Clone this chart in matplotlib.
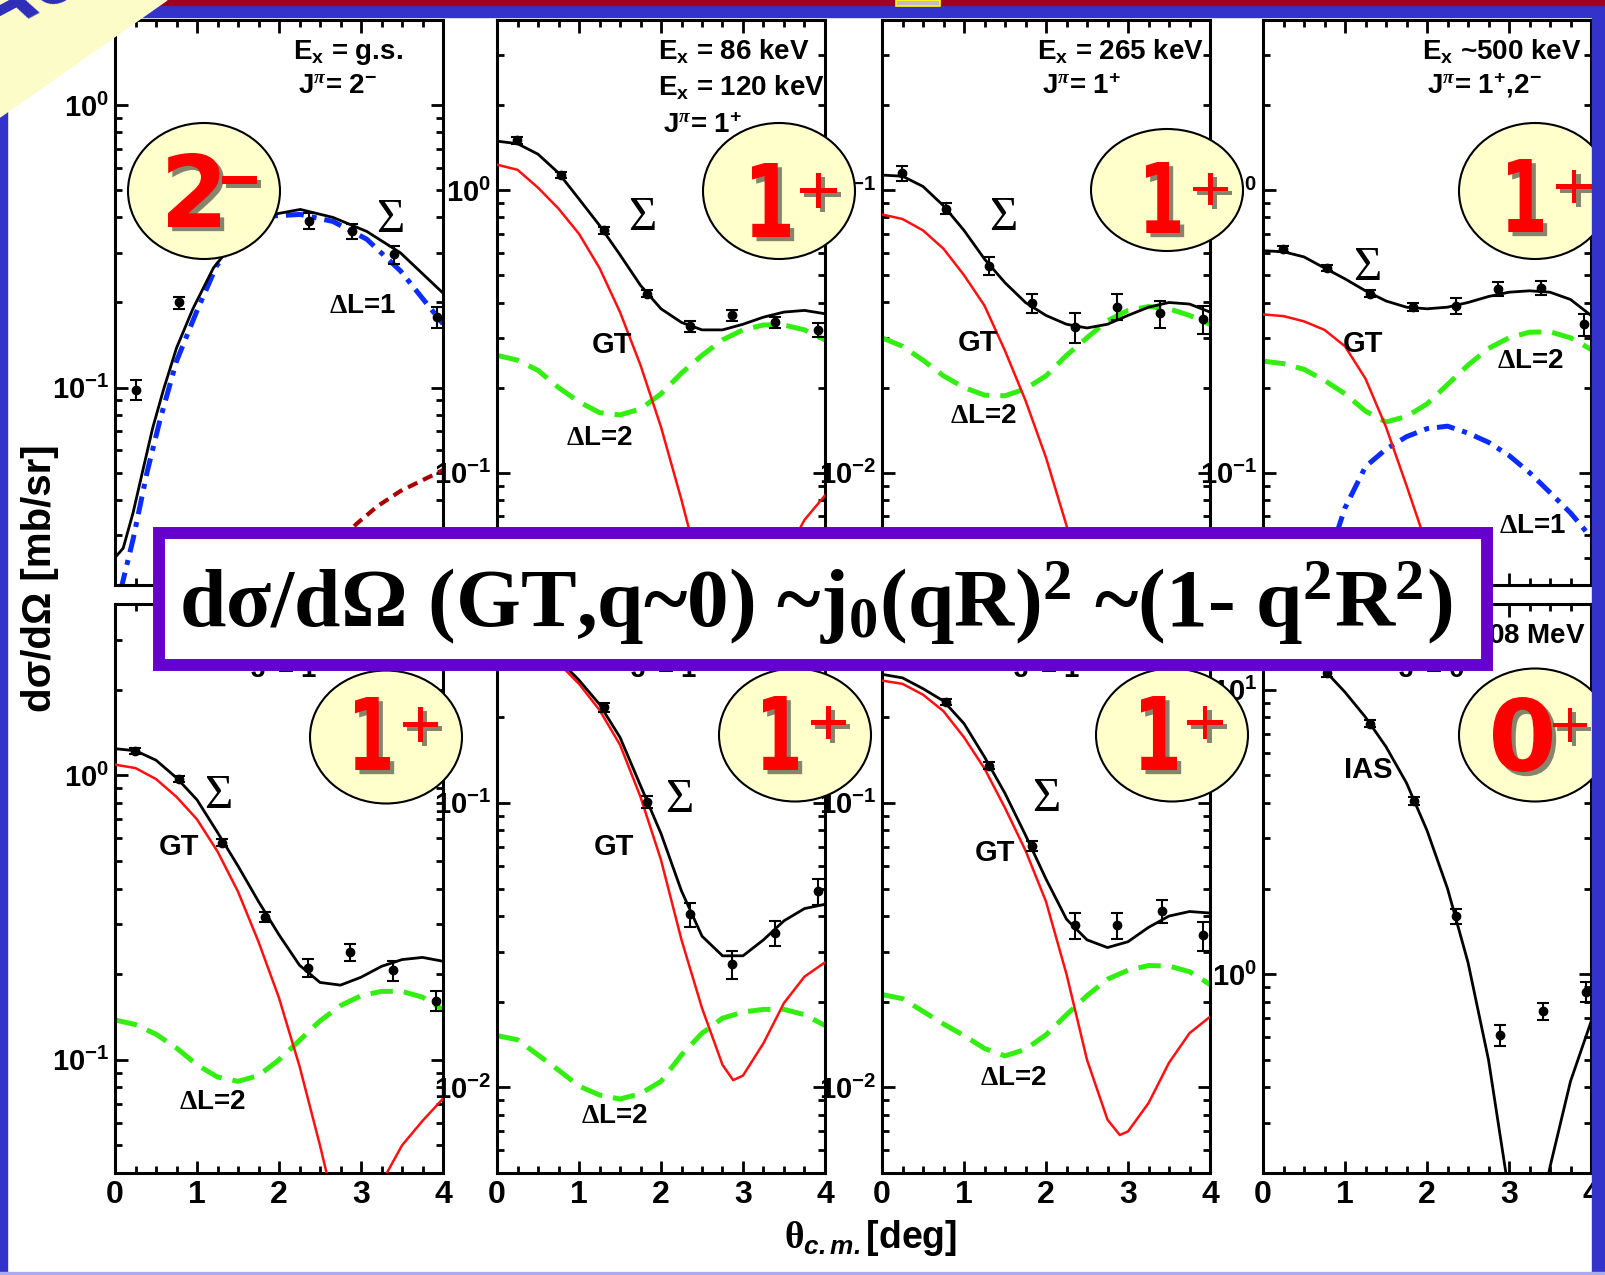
import numpy as np
import matplotlib.pyplot as plt
import matplotlib.patheffects as pe
from matplotlib.patches import Ellipse, Rectangle, Polygon, PathPatch
from matplotlib.ticker import MultipleLocator, FuncFormatter, NullFormatter
from matplotlib.textpath import TextPath
from matplotlib.font_manager import FontProperties
from matplotlib.transforms import Affine2D

plt.rcParams['font.family'] = ['Liberation Sans', 'DejaVu Sans']
plt.rcParams['font.weight'] = 'bold'
plt.rcParams['mathtext.fontset'] = 'custom'
plt.rcParams['mathtext.default'] = 'regular'
plt.rcParams['mathtext.rm'] = 'Liberation Serif'
plt.rcParams['mathtext.it'] = 'Liberation Serif:italic'
plt.rcParams['mathtext.sf'] = 'Liberation Sans:bold:italic'
plt.rcParams['mathtext.bf'] = 'Liberation Sans:bold'

# ---- data (theta_cm in deg, dsigma/dOmega in mb/sr) ----
theta = [0.0, 0.25, 0.5, 0.75, 1.0, 1.25, 1.5, 1.75, 2.0,
         2.25, 2.5, 2.75, 3.0, 3.25, 3.5, 3.75, 4.0]
pts_theta = [0.24, 0.78, 1.31, 1.83, 2.35, 2.87, 3.39, 3.92]

# panel 1: g.s. 2-
p1_sum_x = [0.0, 0.1, 0.22, 0.34, 0.46, 0.59, 0.75, 0.95, 1.2, 1.5, 1.75, 1.93, 2.26, 2.66, 3.07, 3.48, 4.0]
p1_sum = [0.025, 0.027, 0.036, 0.051, 0.072, 0.098, 0.138, 0.19, 0.265, 0.34, 0.39, 0.41, 0.427, 0.40, 0.357, 0.30, 0.216]
p1_dl1_x = [0.0, 0.085, 0.22, 0.39, 0.55, 0.75, 1.0, 1.24, 1.5, 1.75, 1.93, 2.26, 2.66, 3.07, 3.48, 4.0]
p1_dl1 = [0.014, 0.02, 0.029, 0.05, 0.077, 0.124, 0.187, 0.27, 0.34, 0.385, 0.405, 0.41, 0.387, 0.335, 0.259, 0.168]
p1_dl3_x = [2.5, 2.75, 2.95, 3.2, 3.48, 3.75, 4.0]
p1_dl3 = [0.024, 0.029, 0.033, 0.038, 0.043, 0.047, 0.051]
p1_pts_x = [0.26, 0.78, 2.36, 2.89, 3.4, 3.93]
p1_pts = [0.098, 0.20, 0.39, 0.357, 0.296, 0.178]
p1_err = [0.008, 0.01, 0.025, 0.022, 0.022, 0.015]

# panel 2: 86 + 120 keV 1+
p2_sum = [1.49, 1.46, 1.34, 1.15, 0.93, 0.75, 0.59, 0.46, 0.38, 0.34, 0.32, 0.32, 0.335, 0.355, 0.37, 0.375, 0.365]
p2_gt = [1.23, 1.18, 1.02, 0.86, 0.70, 0.53, 0.37, 0.24, 0.145, 0.08, 0.042, 0.02, 0.012, 0.025, 0.05, 0.068, 0.083]
p2_dl2 = [0.26, 0.25, 0.23, 0.2, 0.178, 0.163, 0.16, 0.168, 0.19, 0.225, 0.26, 0.295, 0.32, 0.333, 0.333, 0.32, 0.295]
p2_pts = [1.5, 1.13, 0.72, 0.43, 0.33, 0.36, 0.34, 0.32]
p2_err = [0.04, 0.03, 0.02, 0.012, 0.015, 0.015, 0.015, 0.018]

# panel 3: 265 keV 1+
p3_sum = [0.113, 0.112, 0.103, 0.088, 0.072, 0.057, 0.047, 0.040, 0.036, 0.0335, 0.0325, 0.0335, 0.036, 0.0385, 0.040, 0.0395, 0.037]
p3_gt_x = [0.0, 0.25, 0.5, 0.75, 1.0, 1.25, 1.5, 1.75, 2.0, 2.25, 2.5]
p3_gt = [0.082, 0.079, 0.072, 0.062, 0.050, 0.039, 0.027, 0.018, 0.0113, 0.0065, 0.0034]
p3_dl2 = [0.030, 0.028, 0.025, 0.022, 0.020, 0.0188, 0.0187, 0.0198, 0.022, 0.026, 0.030, 0.0345, 0.0375, 0.0387, 0.038, 0.036, 0.0335]
p3_pts = [0.115, 0.086, 0.054, 0.0397, 0.0327, 0.0387, 0.0366, 0.035]
p3_err = [0.007, 0.004, 0.004, 0.003, 0.004, 0.004, 0.004, 0.004]

# panel 4: ~500 keV 1+,2-
p4_sum = [0.61, 0.605, 0.58, 0.53, 0.485, 0.44, 0.405, 0.385, 0.38, 0.385, 0.40, 0.42, 0.435, 0.44, 0.435, 0.41, 0.36]
p4_gt_x = [0.0, 0.25, 0.5, 0.75, 1.0, 1.25, 1.5, 1.75, 2.0, 2.25]
p4_gt = [0.363, 0.358, 0.343, 0.32, 0.28, 0.215, 0.145, 0.09, 0.055, 0.03]
p4_dl2 = [0.248, 0.243, 0.232, 0.212, 0.19, 0.165, 0.151, 0.158, 0.175, 0.205, 0.24, 0.275, 0.30, 0.314, 0.315, 0.30, 0.273]
p4_dl1_x = [0.75, 1.0, 1.25, 1.5, 1.75, 2.0, 2.25, 2.5, 2.75, 3.0, 3.25, 3.5, 3.75, 4.0]
p4_dl1 = [0.045, 0.075, 0.105, 0.121, 0.134, 0.143, 0.146, 0.138, 0.128, 0.115, 0.1, 0.085, 0.072, 0.059]
p4_pts = [0.62, 0.53, 0.43, 0.385, 0.39, 0.448, 0.45, 0.335]
p4_err = [0.015, 0.012, 0.012, 0.012, 0.025, 0.025, 0.025, 0.03]

# panel 5
p5_sum = [1.24, 1.22, 1.13, 0.98, 0.82, 0.63, 0.48, 0.36, 0.275, 0.215, 0.187, 0.183, 0.195, 0.213, 0.225, 0.229, 0.222]
p5_gt = [1.09, 1.06, 0.97, 0.84, 0.70, 0.54, 0.39, 0.26, 0.165, 0.095, 0.05, 0.025, 0.015, 0.037, 0.05, 0.061, 0.073]
p5_dl2 = [0.138, 0.133, 0.123, 0.11, 0.096, 0.087, 0.084, 0.088, 0.1, 0.117, 0.137, 0.155, 0.168, 0.174, 0.174, 0.166, 0.150]
p5_pts = [1.22, 0.97, 0.58, 0.318, 0.211, 0.239, 0.206, 0.161]
p5_err = [0.03, 0.025, 0.015, 0.012, 0.015, 0.017, 0.017, 0.013]

# panel 6
p6_sum = [0.40, 0.39, 0.36, 0.32, 0.27, 0.222, 0.17, 0.115, 0.078, 0.049, 0.034, 0.029, 0.029, 0.033, 0.0385, 0.0425, 0.044]
p6_gt_x = [0.0, 0.25, 0.5, 0.75, 1.0, 1.25, 1.5, 1.75, 2.0, 2.25, 2.5, 2.75, 2.88, 3.0, 3.25, 3.5, 3.75, 4.0]
p6_gt = [0.39, 0.38, 0.35, 0.31, 0.262, 0.212, 0.16, 0.105, 0.063, 0.033, 0.019, 0.012, 0.0106, 0.011, 0.0143, 0.0198, 0.0245, 0.0275]
p6_dl2 = [0.0152, 0.0147, 0.013, 0.0115, 0.0101, 0.0094, 0.0091, 0.0095, 0.0105, 0.013, 0.0155, 0.0175, 0.0184, 0.0188, 0.0188, 0.018, 0.0165]
p6_pts_x = [1.31, 1.83, 2.35, 2.87, 3.39, 3.92]
p6_pts = [0.217, 0.101, 0.0406, 0.0271, 0.0348, 0.0489]
p6_err = [0.008, 0.005, 0.004, 0.003, 0.0035, 0.005]

# panel 7
p7_sum = [0.283, 0.275, 0.252, 0.228, 0.19, 0.145, 0.108, 0.077, 0.054, 0.039, 0.033, 0.031, 0.0325, 0.0365, 0.040, 0.0415, 0.041]
p7_gt_x = [0.0, 0.25, 0.5, 0.75, 1.0, 1.25, 1.5, 1.75, 2.0, 2.25, 2.5, 2.75, 2.9, 3.0, 3.25, 3.5, 3.75, 4.0]
p7_gt = [0.269, 0.262, 0.24, 0.21, 0.17, 0.132, 0.096, 0.068, 0.045, 0.025, 0.0125, 0.0077, 0.0068, 0.0070, 0.0088, 0.0122, 0.0155, 0.0177]
p7_dl2 = [0.0212, 0.0205, 0.0185, 0.0167, 0.0152, 0.0137, 0.0129, 0.0136, 0.0153, 0.018, 0.021, 0.024, 0.0258, 0.0268, 0.0267, 0.0255, 0.023]
p7_pts_x = [0.78, 1.31, 1.83, 2.35, 2.87, 3.41, 3.92]
p7_pts = [0.226, 0.135, 0.0706, 0.0371, 0.0371, 0.0417, 0.0342]
p7_err = [0.006, 0.004, 0.003, 0.004, 0.004, 0.004, 0.004]

# panel 8: IAS 0+
p8_x = [0.0, 0.25, 0.5, 0.75, 1.0, 1.25, 1.5, 1.75, 2.0, 2.25, 2.5, 2.75, 3.0, 3.1, 3.2, 3.3, 3.4, 3.5, 3.75, 4.0]
p8_ias = [17, 16, 14, 11.7, 9.8, 8.0, 6.3, 4.7, 3.2, 2.0, 1.1, 0.5, 0.17, 0.08, 0.05, 0.08, 0.15, 0.21, 0.42, 0.68]
p8_pts_x = [0.78, 1.31, 1.84, 2.35, 2.89, 3.41, 3.94]
p8_pts = [11.4, 7.6, 4.06, 1.6, 0.61, 0.74, 0.865]
p8_err = [0.3, 0.2, 0.12, 0.1, 0.05, 0.05, 0.07]

ylims = [(0.02, 2), (0.04, 4), (0.004, 0.4), (0.04, 4),
         (0.04, 4), (0.005, 0.5), (0.005, 0.5), (0.2, 20)]

ex_labels = [["E$_x$ = g.s."], ["E$_x$ = 86 keV", "E$_x$ = 120 keV"],
             ["E$_x$ = 265 keV"], ["E$_x$ ~500 keV"]]
jpi_labels = ["J$^{\\mathit{\\pi}}$= 2$^{-}$", "J$^{\\mathit{\\pi}}$= 1$^{+}$",
              "J$^{\\mathit{\\pi}}$= 1$^{+}$", "J$^{\\mathit{\\pi}}$= 1$^{+}$,2$^{-}$"]
jpi_bottom = ["J$^{\\mathit{\\pi}}$= 1$^{+}$", "J$^{\\mathit{\\pi}}$= 1$^{+}$",
              "J$^{\\mathit{\\pi}}$= 1$^{+}$", "J$^{\\mathit{\\pi}}$= 0$^{+}$"]
spin_digit = ["2", "1", "1", "1", "1", "1", "1", "0"]
spin_sign = ["\u2212", "+", "+", "+", "+", "+", "+", "+"]

# ---- figure (pixel layout) ----
W, H = 1605, 1275
fig = plt.figure(figsize=(W / 100, H / 100), dpi=100)
fig.patch.set_facecolor('white')

lefts = [115, 497, 882, 1263]
PW = 328
rows = [(20, 585), (604, 1173)]


def make_ax(i):
    r, c = divmod(i, 4)
    top, bot = rows[r]
    ax = fig.add_axes([lefts[c] / W, 1 - bot / H, PW / W, (bot - top) / H])
    ax.set_xlim(0, 4)
    ax.set_yscale('log')
    ax.set_ylim(*ylims[i])
    ax.xaxis.set_major_locator(MultipleLocator(1))
    ax.xaxis.set_minor_locator(MultipleLocator(0.25))
    ax.yaxis.set_major_formatter(FuncFormatter(
        lambda v, p: "10$^{%d}$" % int(round(np.log10(v)))))
    ax.yaxis.set_minor_formatter(NullFormatter())
    ax.tick_params(which='both', direction='in', top=True, right=True, width=2.0)
    ax.tick_params(which='major', length=9)
    ax.tick_params(which='minor', length=5)
    ax.tick_params(axis='y', labelsize=21, pad=4)
    ax.tick_params(axis='x', labelsize=23, pad=5, labelbottom=(r == 1))
    for s in ax.spines.values():
        s.set_linewidth(2.2)
    return ax


def sum_line(ax, x, y):
    ax.plot(x, y, color='k', lw=2.0, zorder=4)


def gt_line(ax, x, y):
    ax.plot(x, y, color='#ff1010', lw=1.8, zorder=3)


def dl2_line(ax, x, y):
    ax.plot(x, y, color='#33ee11', lw=3.6, dashes=(4.5, 2.2), zorder=2)


def dl1_line(ax, x, y):
    ax.plot(x, y, color='#0a2cff', lw=3.6, dashes=(3.6, 1.6, 1.0, 1.6), zorder=2)


def points(ax, x, y, e):
    ax.errorbar(x, y, yerr=e, fmt='o', color='k', ms=6, capsize=4,
                elinewidth=1.5, capthick=1.5, zorder=5)


axs = [make_ax(i) for i in range(8)]

ax = axs[0]
dl1_line(ax, p1_dl1_x, p1_dl1)
ax.plot(p1_dl3_x, p1_dl3, color='#aa0000', lw=3.0, dashes=(2.5, 1.5), zorder=2)
sum_line(ax, p1_sum_x, p1_sum)
points(ax, p1_pts_x, p1_pts, p1_err)

ax = axs[1]
dl2_line(ax, theta, p2_dl2)
gt_line(ax, theta, p2_gt)
sum_line(ax, theta, p2_sum)
points(ax, pts_theta, p2_pts, p2_err)

ax = axs[2]
dl2_line(ax, theta, p3_dl2)
gt_line(ax, p3_gt_x, p3_gt)
sum_line(ax, theta, p3_sum)
points(ax, pts_theta, p3_pts, p3_err)

ax = axs[3]
dl2_line(ax, theta, p4_dl2)
dl1_line(ax, p4_dl1_x, p4_dl1)
gt_line(ax, p4_gt_x, p4_gt)
sum_line(ax, theta, p4_sum)
points(ax, pts_theta, p4_pts, p4_err)

ax = axs[4]
dl2_line(ax, theta, p5_dl2)
gt_line(ax, theta, p5_gt)
sum_line(ax, theta, p5_sum)
points(ax, pts_theta, p5_pts, p5_err)

ax = axs[5]
dl2_line(ax, theta, p6_dl2)
gt_line(ax, p6_gt_x, p6_gt)
sum_line(ax, theta, p6_sum)
points(ax, p6_pts_x, p6_pts, p6_err)

ax = axs[6]
dl2_line(ax, theta, p7_dl2)
gt_line(ax, p7_gt_x, p7_gt)
sum_line(ax, theta, p7_sum)
points(ax, p7_pts_x, p7_pts, p7_err)

ax = axs[7]
sum_line(ax, p8_x, p8_ias)
points(ax, p8_pts_x, p8_pts, p8_err)

# ---- overlay in pixel coordinates ----
ov = fig.add_axes([0, 0, 1, 1])
ov.set_xlim(0, W)
ov.set_ylim(H, 0)
ov.axis('off')
ov.set_zorder(10)
ov.patch.set_alpha(0)

# state texts
ex_x = [293, 658, 1037, 1422]
for c in range(4):
    for k, s in enumerate(ex_labels[c]):
        ov.text(ex_x[c], 59 + 37 * k, s, fontsize=20, ha='left', va='baseline', zorder=1)
    ov.text(ex_x[c] + 5, 94 if c != 1 else 133, jpi_labels[c], fontsize=20,
            ha='left', va='baseline', zorder=1)
jb_x = [250, 630, 1013, 1398]
for c in range(4):
    ov.text(jb_x[c], 678, jpi_bottom[c], fontsize=20, ha='left', va='baseline', zorder=1)
ov.text(1586, 643, "E$_x$ = 3.08 MeV", fontsize=20, ha='right', va='baseline', zorder=1)

# curve labels
sig_pos = [(390, 232), (642, 230), (1003, 230), (1367, 280),
           (218, 808), (679, 812), (1046, 811)]
for x, y in sig_pos:
    ov.text(x, y, "\u03a3", fontfamily='Liberation Serif', fontweight='normal',
            fontsize=35, ha='center', va='baseline', zorder=1)
for x, y in [(612, 353), (978, 351), (1363, 352), (179, 855), (614, 855), (995, 861)]:
    ov.text(x, y, "GT", fontsize=21, ha='center', va='baseline', zorder=1)
for x, y in [(599, 445), (983, 423), (1530, 368), (212, 1109), (614, 1123), (1013, 1085)]:
    ov.text(x, y, "$\\mathrm{\\Delta}$L=2", fontsize=20, ha='center', va='baseline', zorder=1)
for x, y in [(363, 313), (1533, 533)]:
    ov.text(x, y, "$\\mathrm{\\Delta}$L=1", fontsize=20, ha='center', va='baseline', zorder=1)
ov.text(1368, 778, "IAS", fontsize=21, ha='center', va='baseline', zorder=1)

# spin ellipses, glyphs fitted into their boxes (x0, x1, y0, y1 in px)
ell_c = [(204, 191), (779, 191), (1167, 190), (1535, 191),
         (386, 737), (795, 735), (1172, 735), (1535, 735)]
ell_h = [136, 136, 122, 136, 133, 133, 133, 133]
digit_box = [(168, 220, 153, 227), (752, 790, 163, 237), (1146, 1180, 162, 233),
             (1508, 1543, 159, 232), (355, 390, 697, 770), (763, 798, 696, 770),
             (1141, 1177, 696, 770), (1493, 1552, 697, 772)]
sign_box = [(222, 257, 176, 184), (800, 837, 173, 208), (1193, 1228, 173, 205),
            (1556, 1592, 170, 203), (403, 438, 707, 742), (811, 846, 706, 739),
            (1187, 1223, 706, 739), (1553, 1587, 708, 742)]
shadow = [pe.withSimplePatchShadow(offset=(3, -3), shadow_rgbFace='#222222', alpha=0.55)]
digit_font = FontProperties(family='DejaVu Sans', weight='bold')
sign_font = FontProperties(family='DejaVu Sans', weight='normal')


def glyph(ch, box, fp):
    tp = TextPath((0, 0), ch, size=100, prop=fp)
    ext = tp.get_extents()
    x0, x1, y0, y1 = box
    tr = (Affine2D().translate(-ext.x0, -ext.y0)
          .scale((x1 - x0) / ext.width, -(y1 - y0) / ext.height)
          .translate(x0, y1))
    ov.add_patch(PathPatch(tr.transform_path(tp), facecolor='#ff0000',
                           edgecolor='none', zorder=6, path_effects=shadow))


for i in range(8):
    ov.add_patch(Ellipse(ell_c[i], 152, ell_h[i], facecolor='#ffffcc',
                         edgecolor='k', lw=1.5, zorder=5))
    glyph(spin_digit[i], digit_box[i], digit_font)
    glyph(spin_sign[i], sign_box[i], digit_font if i == 0 else sign_font)

# formula box
ov.add_patch(Rectangle((159, 533), 1328, 132, facecolor='white', edgecolor='#6600cc',
                       lw=8.6, zorder=8))
ov.text(816, 627, "d\u03c3/d\u03a9 (GT,q~0) ~j$_0$(qR)$^2$ ~(1- q$^2$R$^2$)",
        fontfamily='Liberation Serif', fontweight='bold', fontsize=60,
        ha='center', va='baseline', zorder=9)

# axis titles
ov.text(40, 578, "d\u03c3/d\u03a9 [mb/sr]", fontsize=29, rotation=90,
        ha='center', va='center', zorder=1)
ov.text(871, 1248, "$\\mathrm{\\theta}_{\\mathsf{c.m.}}$[deg]", fontsize=27,
        ha='center', va='baseline', zorder=1)

# slide frame
ov.add_patch(Rectangle((0, 0), 7, H, color='#3333cc', zorder=10))
ov.add_patch(Rectangle((1592, 0), 13, H, color='#3333cc', zorder=10))
ov.add_patch(Rectangle((0, 5), W, 12, color='#3333cc', zorder=10))
ov.add_patch(Rectangle((0, 0), W, 5, color='#a00020', zorder=10))
ov.add_patch(Rectangle((0, 1272), W, 3, color='#aaaaee', zorder=10))
ov.add_patch(Rectangle((896, 0), 44, 6, facecolor='#c8b8c8', edgecolor='#ffff00',
                       lw=1.2, zorder=11))
ov.add_patch(Polygon([(0, 0), (167, 0), (0, 117)], closed=True, color='#fcfcc8', zorder=11))
ov.text(40, -14, "Ao!", fontsize=64, color='#2d2db8', rotation=28, ha='center',
        va='center', zorder=12)

fig.savefig('out.png', dpi=100)
